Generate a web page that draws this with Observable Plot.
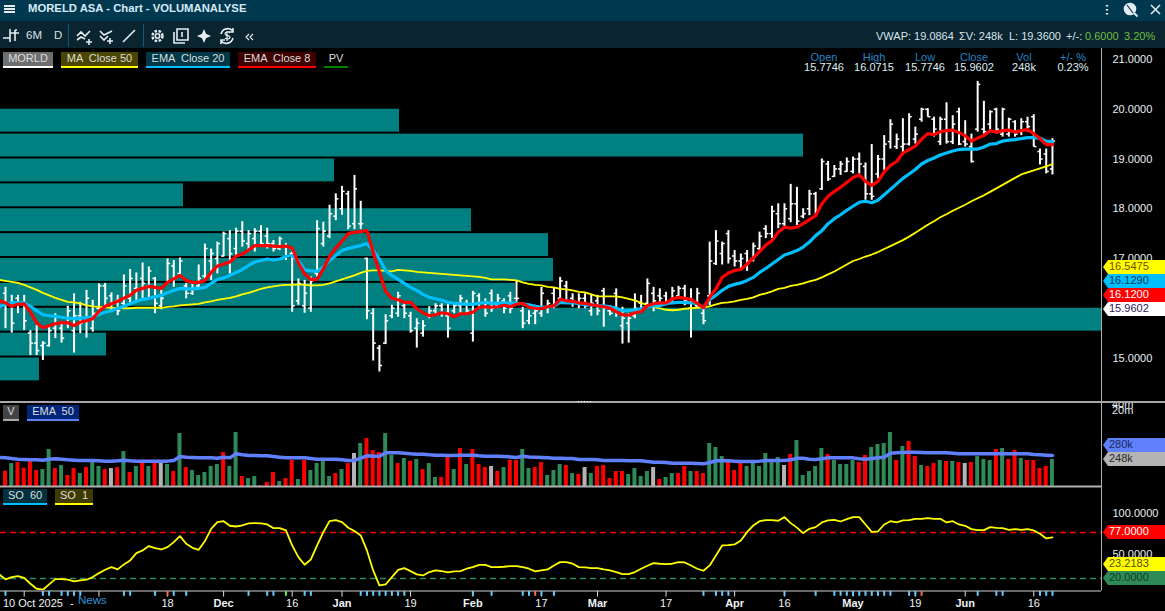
<!DOCTYPE html>
<html>
<head>
<meta charset="utf-8">
<script src="https://cdn.jsdelivr.net/npm/d3@7"></script>
<script src="https://cdn.jsdelivr.net/npm/@observablehq/plot@0.6"></script>
<style>
html,body{margin:0;padding:0;background:#000;}
#page{position:relative;width:1165px;height:611px;overflow:hidden;background:#000;font-family:"Liberation Sans",Arial,sans-serif;font-size:11px;color:#e6eef2;}
#page svg{position:absolute;left:0;background:transparent;max-width:none;}
.h{position:absolute;white-space:pre;line-height:1;}
.chip{position:absolute;box-sizing:border-box;white-space:pre;text-align:center;color:#d8d8d8;font-size:11px;}
.tag{position:absolute;left:1103px;width:62px;height:14px;line-height:13px;padding-left:6px;box-sizing:border-box;font-size:11px;clip-path:polygon(0 50%,5px 0,100% 0,100% 100%,5px 100%);}
</style>
</head>
<body>
<div id="page"></div>
<script>
// ---------- price series (OHLC per trading day, oldest first) ----------
const high = [16.42,16.26,16.26,16.26,15.55,15.65,15.33,15.62,15.89,15.72,16.04,16.29,16.12,16.36,16.16,16.49,16.50,16.31,16.26,16.67,
16.78,16.71,16.91,16.83,16.62,16.36,16.99,16.96,17.01,16.50,16.50,16.87,17.29,17.19,17.33,17.53,17.56,17.61,17.74,17.56,
17.60,17.66,17.61,17.36,17.43,17.30,17.13,16.59,16.56,16.63,17.76,17.73,18.07,18.30,18.45,18.35,18.67,18.15,17.01,15.99,
15.25,15.87,16.06,16.32,16.12,15.92,15.79,15.75,16.03,16.09,16.09,16.09,16.09,16.26,16.16,16.34,16.29,16.19,16.37,16.28,
16.19,16.32,16.55,16.02,15.95,16.06,16.42,16.16,16.40,16.62,16.54,16.29,16.29,16.29,16.27,16.26,16.40,16.05,16.39,16.02,
15.89,16.29,16.26,16.59,16.42,16.39,16.32,16.42,16.44,16.46,16.39,16.40,16.05,17.33,17.56,17.33,17.56,17.16,17.09,17.16,
17.31,17.53,17.66,18.05,18.10,18.10,18.49,18.43,18.00,18.37,18.33,19.00,18.95,18.87,18.95,19.02,19.04,19.12,18.92,19.29,
19.07,19.47,19.79,19.50,19.81,19.91,19.64,20.02,20.01,19.84,19.84,20.13,19.87,20.02,19.77,19.50,20.56,20.16,19.97,20.02,
20.02,19.82,19.77,19.81,19.84,19.89,19.20,19.20,19.41];
const low = [15.59,15.50,15.89,15.55,15.05,15.05,14.95,15.22,15.39,15.30,15.59,15.10,15.49,15.40,15.52,15.92,16.02,15.92,15.85,16.02,
16.09,16.11,16.16,16.19,15.89,15.97,16.49,16.42,16.62,16.19,16.26,16.36,16.59,16.56,16.69,17.03,16.69,17.06,17.23,17.13,
17.13,17.23,17.19,17.13,17.16,16.96,15.92,16.06,15.90,15.92,16.63,17.23,17.40,17.76,17.87,17.58,17.58,17.58,15.77,14.94,
14.72,15.27,15.79,15.82,15.79,15.50,15.20,15.42,15.79,15.89,15.82,15.40,15.89,15.89,15.89,15.32,15.99,15.82,15.92,15.99,
15.89,15.89,16.12,15.59,15.67,15.67,15.82,15.89,15.99,16.12,16.09,16.02,15.99,15.99,15.84,15.85,15.62,15.85,15.82,15.28,
15.30,15.79,15.93,16.05,15.93,16.07,16.05,16.09,16.20,16.05,15.40,16.02,15.67,16.05,16.86,16.87,16.89,16.83,16.79,16.74,
16.93,17.16,17.40,17.40,17.60,17.62,17.72,17.66,17.80,17.86,17.86,18.37,18.55,18.63,18.67,18.73,18.70,18.70,18.17,18.17,
18.60,18.77,19.20,19.19,19.07,19.26,19.30,19.74,19.84,19.44,19.27,19.30,19.29,19.27,19.24,18.92,19.54,19.50,19.57,19.50,
19.44,19.44,19.44,19.47,19.54,19.24,18.88,18.70,18.68];
const open = [16.30,16.05,16.20,16.10,15.50,15.30,15.25,15.25,15.60,15.60,15.70,15.55,15.85,15.75,15.60,16.00,16.45,16.25,16.15,16.10,
16.20,16.40,16.60,16.45,16.60,16.05,16.50,16.85,16.70,16.45,16.30,16.45,16.65,16.95,17.00,17.05,17.40,17.20,17.55,17.30,
17.40,17.55,17.45,17.30,17.20,17.25,17.10,16.15,16.05,16.00,16.70,17.30,17.45,17.85,18.00,18.30,17.70,17.70,17.00,15.90,
15.20,15.30,15.85,15.90,16.05,15.85,15.60,15.50,15.85,15.95,16.05,15.85,15.95,16.05,16.10,15.50,16.25,16.10,16.30,16.05,
16.15,16.25,16.20,15.95,15.75,15.90,15.90,16.00,16.30,16.20,16.45,16.20,16.10,16.20,15.95,16.15,16.35,15.95,16.30,15.65,
15.70,15.85,16.10,16.10,16.30,16.25,16.25,16.15,16.25,16.40,16.00,16.05,15.90,16.25,16.90,17.10,17.50,17.05,16.95,17.10,
17.00,17.20,17.60,17.50,17.90,17.70,17.80,18.10,17.85,18.00,18.30,18.40,18.90,18.65,18.80,18.75,18.75,19.00,18.85,18.30,
18.70,19.00,19.35,19.25,19.25,19.30,19.40,19.80,20.00,19.80,19.35,19.80,19.35,19.95,19.35,19.25,19.60,19.60,19.70,20.00,
19.50,19.50,19.75,19.55,19.75,19.85,19.15,19.10,18.80];
const close = [16.10,15.70,16.10,15.75,15.30,15.15,15.30,15.55,15.70,15.40,15.95,15.85,15.70,16.20,15.90,16.45,16.20,16.10,15.95,16.45,
16.60,16.15,16.50,16.75,16.10,16.20,16.90,16.60,16.95,16.30,16.40,16.60,17.20,17.10,17.30,17.50,17.10,17.55,17.35,17.50,
17.55,17.30,17.30,17.20,17.40,17.05,16.05,16.50,16.30,16.55,17.60,17.55,17.90,18.20,18.35,17.65,18.40,17.70,15.95,15.30,
14.85,15.75,16.00,16.25,15.90,15.55,15.70,15.65,15.95,16.05,15.90,15.60,16.05,16.20,15.95,16.30,16.10,15.90,16.00,16.20,
16.00,16.00,16.20,15.70,15.85,15.95,16.30,16.10,16.05,16.55,16.15,16.10,16.20,16.05,16.10,15.95,16.00,15.90,15.90,15.80,
15.80,16.00,16.00,16.50,16.15,16.20,16.10,16.35,16.40,16.15,16.10,16.30,15.75,16.95,17.35,17.30,17.00,16.95,17.00,16.95,
17.25,17.45,17.50,17.95,17.70,18.00,18.10,17.75,17.90,18.30,17.95,18.95,18.60,18.80,18.90,18.95,19.00,18.90,18.30,18.25,
19.00,19.30,19.70,19.40,19.30,19.85,19.50,20.00,19.85,19.60,19.80,19.35,19.70,19.30,19.30,18.95,20.50,19.55,19.95,19.60,
20.00,19.80,19.50,19.75,19.65,19.25,19.00,18.75,19.36];

// ---------- moving averages on price ----------
const ema8 = [16.11,16.04,16.08,16.09,15.92,15.71,15.61,15.65,15.69,15.71,15.71,15.65,15.72,15.75,15.79,15.94,16.04,16.09,16.14,16.20,
16.26,16.36,16.40,16.44,16.42,16.40,16.52,16.59,16.66,16.56,16.52,16.52,16.56,16.72,16.85,16.89,16.93,17.05,17.09,17.17,
17.26,17.26,17.26,17.25,17.24,17.25,17.21,16.91,16.69,16.58,16.58,16.79,17.04,17.21,17.35,17.50,17.53,17.54,17.56,17.13,
16.73,16.34,16.20,16.17,16.12,16.12,15.99,15.91,15.85,15.87,15.91,15.89,15.83,15.89,15.89,15.92,16.02,16.03,16.02,16.03,
16.06,16.03,16.08,16.10,16.02,16.00,15.99,16.03,16.05,16.18,16.15,16.14,16.11,16.10,16.07,16.05,16.03,16.00,15.93,15.87,
15.86,15.91,15.93,16.05,16.09,16.11,16.11,16.19,16.22,16.20,16.18,16.10,16.01,16.22,16.39,16.62,16.71,16.76,16.78,16.89,
17.01,17.14,17.27,17.36,17.53,17.63,17.61,17.63,17.70,17.78,17.86,18.10,18.25,18.35,18.43,18.53,18.63,18.68,18.55,18.47,
18.55,18.74,18.87,18.95,19.12,19.19,19.26,19.40,19.51,19.49,19.55,19.57,19.58,19.53,19.47,19.36,19.42,19.47,19.57,19.54,
19.57,19.58,19.54,19.57,19.59,19.51,19.41,19.29,19.29];
const ema20 = [16.07,16.11,16.11,16.11,16.04,15.95,15.87,15.85,15.84,15.82,15.80,15.79,15.80,15.81,15.82,15.88,15.92,15.95,16.00,16.04,
16.09,16.14,16.18,16.20,16.23,16.26,16.31,16.36,16.40,16.39,16.39,16.40,16.42,16.50,16.58,16.61,16.66,16.72,16.78,16.86,
16.93,16.96,16.99,16.97,16.99,17.04,17.06,16.95,16.77,16.75,16.74,16.83,16.96,17.06,17.16,17.20,17.23,17.26,17.30,17.16,
16.99,16.76,16.66,16.58,16.50,16.42,16.36,16.28,16.22,16.19,16.16,16.12,16.10,16.09,16.08,16.08,16.10,16.12,16.10,16.10,
16.11,16.10,16.10,16.09,16.07,16.04,16.02,16.03,16.05,16.12,16.11,16.11,16.09,16.07,16.07,16.05,16.05,16.03,16.00,15.95,
15.95,15.97,15.99,16.03,16.05,16.05,16.09,16.11,16.12,16.12,16.11,16.09,16.02,16.18,16.26,16.36,16.44,16.48,16.51,16.56,
16.62,16.72,16.80,16.89,16.98,17.07,17.11,17.16,17.23,17.33,17.46,17.56,17.70,17.80,17.88,17.97,18.05,18.13,18.15,18.12,
18.17,18.28,18.39,18.50,18.61,18.70,18.79,18.90,18.97,19.02,19.08,19.12,19.16,19.19,19.20,19.20,19.20,19.24,19.30,19.31,
19.36,19.38,19.39,19.41,19.43,19.43,19.42,19.36,19.35];
const ma50 = [16.55,16.53,16.51,16.47,16.42,16.37,16.31,16.26,16.21,16.17,16.13,16.12,16.10,16.06,16.04,16.03,16.02,16.01,16.01,16.00,
16.00,16.01,16.01,16.01,16.01,16.01,16.03,16.04,16.06,16.07,16.08,16.09,16.12,16.14,16.17,16.19,16.21,16.24,16.28,16.31,
16.35,16.39,16.42,16.44,16.46,16.47,16.47,16.48,16.47,16.46,16.46,16.47,16.50,16.54,16.58,16.62,16.66,16.71,16.75,16.76,
16.76,16.75,16.74,16.77,16.76,16.75,16.73,16.72,16.71,16.70,16.69,16.68,16.67,16.66,16.65,16.64,16.63,16.61,16.58,16.58,
16.58,16.57,16.56,16.52,16.49,16.47,16.46,16.43,16.42,16.39,16.38,16.36,16.33,16.32,16.28,16.24,16.24,16.24,16.24,16.22,
16.19,16.16,16.11,16.06,16.03,16.00,15.97,15.96,15.97,15.99,16.00,16.01,16.02,16.04,16.08,16.11,16.12,16.14,16.17,16.19,
16.22,16.27,16.30,16.34,16.39,16.41,16.45,16.47,16.50,16.54,16.57,16.62,16.68,16.74,16.81,16.88,16.95,16.99,17.04,17.08,
17.13,17.19,17.25,17.31,17.37,17.44,17.52,17.60,17.68,17.75,17.83,17.89,17.96,18.02,18.08,18.15,18.21,18.27,18.34,18.41,
18.48,18.55,18.62,18.69,18.73,18.77,18.81,18.85,18.90];

// ---------- volume (thousands) and its EMA 50 ----------
const volume = [141,211,220,168,230,147,156,340,165,193,101,165,119,174,223,184,156,165,174,321,
129,184,211,184,214,214,202,138,487,174,147,101,129,184,202,312,184,496,92,73,
92,6,37,129,46,73,239,64,239,147,211,239,92,119,156,211,303,395,441,330,
312,487,285,211,257,230,248,156,211,83,83,266,156,349,202,340,202,174,184,138,
174,239,239,340,165,174,220,101,147,202,193,119,110,174,119,184,193,73,138,138,
110,165,92,138,174,64,83,119,119,184,138,138,119,395,358,275,220,147,211,184,
220,184,303,248,266,193,294,422,101,138,184,349,294,239,202,202,239,220,285,358,
386,395,496,239,367,413,275,193,184,211,239,230,230,220,211,220,275,248,239,340,
349,248,330,257,239,239,165,184,248];
const volumeKind = "RGRRRRGGRGRRGRGGRNRGRGRGRNGRGRGGGGGRGGRGGRRRGRRGRGGGGRGRNGRRRGGRGRGRGGRRGRGRRRNRGRRGGRRGGGRGRNGRRRRRGGGGNRGGRRGRRGGGRRRGGGGGGNRG".split("");
const volumeKindRest = "GGGGRGGGGRRGGGGRGRRGRRGRGRNRGGGRGRRGRRRRG".split("");
const volumeEma = [263,257,251,248,245,245,242,251,254,251,245,242,239,239,239,236,233,233,236,242,
236,233,233,233,233,233,233,239,275,269,266,263,263,263,260,269,263,300,291,285,
285,282,282,275,269,263,263,263,263,257,251,251,251,251,245,239,239,260,282,278,
278,309,309,309,306,300,297,297,291,288,288,285,285,288,288,288,282,278,278,278,
275,272,266,278,272,269,266,263,260,260,257,257,248,248,248,245,239,239,239,239,
236,236,236,229,223,223,220,214,214,214,214,211,208,220,236,239,236,233,229,229,
229,233,239,239,239,239,245,260,260,251,248,254,263,263,263,263,263,254,251,257,
263,269,306,309,312,315,315,312,309,309,309,309,306,300,300,300,300,300,300,300,
300,300,300,300,300,294,291,288,285];

// ---------- stochastic oscillator ----------
const so = [18.8,21.7,22.9,20.8,13.4,7.2,6.0,12.6,19.2,19.2,18.4,16.3,17.5,18.4,21.7,26.6,30.7,34.0,31.2,37.4,
42.3,51.4,54.7,60.1,57.6,55.9,58.8,65.0,72.5,63.0,58.0,55.5,66.3,81.5,89.8,91.0,85.3,84.4,85.7,88.2,
88.6,88.2,86.9,82.4,82.4,79.5,60.9,46.4,36.9,43.5,60.9,77.4,91.0,92.3,89.8,82.8,78.7,73.3,54.7,29.9,
11.3,12.6,21.7,30.7,32.8,29.1,25.0,23.7,27.9,29.9,29.1,27.4,28.7,29.1,32.0,34.0,36.9,36.9,34.0,34.0,
34.5,35.3,35.3,34.0,32.0,28.7,29.9,31.2,36.1,40.2,40.2,38.2,34.0,33.6,32.8,32.8,31.2,29.9,27.9,25.4,
25.4,27.9,32.0,35.7,39.0,38.2,37.8,38.2,40.2,39.8,36.1,32.0,29.5,36.1,48.5,60.9,61.3,62.1,67.1,77.4,
85.7,91.0,92.3,92.3,91.5,96.0,88.6,83.0,76.2,81.5,83.6,89.4,91.9,92.7,90.6,93.5,96.0,96.0,86.9,77.8,
78.2,86.9,91.0,89.4,91.9,92.3,93.9,93.9,94.8,93.9,93.9,89.4,91.0,86.9,85.3,81.1,79.9,79.9,83.6,82.8,
82.4,80.3,81.1,80.3,81.1,79.5,75.3,69.6,70.8];

// readings of each line on the day before the first whole bar, at the left edge of the chart
const leadIndex = -1;
const leadEma8 = 16.15;
const leadEma20 = 16.03;
const leadMa50 = 16.57;
const leadVolumeEma = 266;
const leadSo = 25.0;

// ---------- price-volume profile (millions, by price band) ----------
const profileTop = [20,19.5,19,18.5,18,17.5,17,16.5,16,15.5,15];
const profileBottom = [19.54,19.04,18.54,18.04,17.54,17.04,16.54,16.04,15.54,15.04,14.54];
const profileVolume = [3.99,8.03,3.34,1.83,4.71,5.48,5.53,5.15,11.01,1.06,0.39];

// ---------- time axis ----------
const monthLabels = [["Dec",35],["Jan",54],["Feb",75],["Mar",95],["Apr",117],["May",136],["Jun",154]];
const dayLabels = [["18",26],["16",46],["19",65],["17",86],["17",106],["16",125],["19",146],["16",165]];
const plainTicks = [3,15,26,35,46,54,65,75,86,95,106,117,125,136,146,154,165];
const newsTicks = [0,6,7,9,10,11,12,19,20,24,27,29,39,42,43,48,49,57,58,59,60,61,62,63,64,75,78,83,84,86,88,112,114,115,116,125,130,133,134,135,136,137,138,139,140,141,142,145,146,156,159,160,166,167,168];
const alertTicks = [26,85,147];
const positiveTicks = [45];

// ---------- text ----------
const priceTicks = [15,17,18,19,20,21];
const soTicks = [100,50];
const ohlcHeader = [["Open","15.7746"],["High","16.0715"],["Low","15.7746"],["Close","15.9602"],["Vol","248k"],["+/- %","0.23%"]];

const n = high.length;
const kinds = volumeKind.concat(volumeKindRest).slice(0,n);
const bars = d3.range(n).map(i => ({i, h:high[i], l:low[i], o:open[i], c:close[i], v:volume[i], k:kinds[i], e8:ema8[i], e20:ema20[i], m50:ma50[i], ve:volumeEma[i], so:so[i]}));
const lineRows = [{i:leadIndex, e8:leadEma8, e20:leadEma20, m50:leadMa50, ve:leadVolumeEma, so:leadSo}, ...bars];

const page = document.getElementById("page");
const xDomain = [-0.802, 175.87];
const axisEnd = xDomain[1];
const kindColor = {G:"#2e8b57", R:"#ff0000", N:"#b4b4b4"};
const fmt4 = d => d.toFixed(4);
const common = {width:1165, marginLeft:0, marginRight:64, marginTop:0};
function place(svg, top){ svg.style.top = top+"px"; svg.style.position="absolute"; svg.style.background="transparent"; page.appendChild(svg); }

// top/left chrome
function box(l,t,w,h,bg){const d=document.createElement("div");d.style.cssText=`position:absolute;left:${l}px;top:${t}px;width:${w}px;height:${h}px;background:${bg}`;page.appendChild(d);return d;}
function txt(s,l,t,color,extra){const d=document.createElement("div");d.className="h";d.textContent=s;d.style.cssText=`left:${l}px;top:${t}px;color:${color};${extra||""}`;page.appendChild(d);return d;}
box(0,0,1165,21,"#00384f");
box(0,21,1165,27,"#0a2430");

// profile layer
place(Plot.plot({...common, height:354, marginBottom:0,
  x:{domain:[0,11.01],axis:null}, y:{domain:[14.106,21.221],axis:null},
  marks:[Plot.rect(d3.range(profileTop.length),{x1:0,x2:i=>profileVolume[i],y1:i=>profileBottom[i],y2:i=>profileTop[i],fill:"#008080"})]
}),48);

// price layer
place(Plot.plot({...common, height:354, marginBottom:0,
  x:{domain:xDomain,axis:null}, y:{domain:[14.106,21.221],axis:null},
  marks:[
    Plot.ruleX(bars,{x:"i",y1:"l",y2:"h",stroke:"#fff",strokeWidth:2}),
    Plot.link(bars,{x1:d=>d.i-0.42,x2:"i",y1:"o",y2:"o",stroke:"#fff",strokeWidth:1.5}),
    Plot.link(bars,{x1:"i",x2:d=>d.i+0.42,y1:"c",y2:"c",stroke:"#fff",strokeWidth:1.5}),
    Plot.line(lineRows,{x:"i",y:"m50",stroke:"#ffff00",strokeWidth:1.8,clip:"frame"}),
    Plot.line(lineRows,{x:"i",y:"e20",stroke:"#00bfff",strokeWidth:3.2,clip:"frame"}),
    Plot.line(lineRows,{x:"i",y:"e8",stroke:"#ff0000",strokeWidth:3.2,clip:"frame"}),
    Plot.ruleX([axisEnd],{stroke:"#b0b0b0",strokeWidth:1}),
    Plot.axisY(priceTicks,{anchor:"right",tickSize:0,tickPadding:11,tickFormat:fmt4,fill:"#e8eef2",fontSize:11,fontFamily:"Liberation Sans",label:null})
  ]
}),48);

// volume layer
place(Plot.plot({...common, height:86, marginBottom:2,
  x:{domain:xDomain,axis:null}, y:{domain:[0,771.5],axis:null},
  marks:[
    Plot.rectY(bars,{x1:d=>d.i-0.32,x2:d=>d.i+0.32,y1:0,y2:"v",fill:d=>kindColor[d.k]}),
    Plot.ruleY([0],{stroke:"#b0b0b0",strokeWidth:2}),
    Plot.line(lineRows,{x:"i",y:"ve",stroke:"#6080ff",strokeWidth:3.5,clip:"frame"}),
    Plot.ruleX([axisEnd],{stroke:"#b0b0b0",strokeWidth:1})
  ]
}),402);

// stochastic layer
place(Plot.plot({...common, height:106, marginBottom:1.5,
  x:{domain:xDomain,axis:null}, y:{domain:[4.4,134],axis:null},
  marks:[
    Plot.ruleY([77],{stroke:"#ff0000",strokeWidth:1.5,strokeDasharray:"6,4"}),
    Plot.ruleY([20],{stroke:"#2e8b57",strokeWidth:1.5,strokeDasharray:"6,4"}),
    Plot.line(lineRows,{x:"i",y:"so",stroke:"#ffff00",strokeWidth:1.8,clip:"frame"}),
    Plot.ruleX([axisEnd],{stroke:"#b0b0b0",strokeWidth:1}),
    Plot.ruleY([4.4],{stroke:"#d0d0d0",strokeWidth:1}),
    Plot.axisY(soTicks,{anchor:"right",tickSize:0,tickPadding:11,tickFormat:fmt4,fill:"#e8eef2",fontSize:11,fontFamily:"Liberation Sans",label:null})
  ]
}),486);

// time axis layer
place(Plot.plot({...common, height:20, marginBottom:0,
  x:{domain:xDomain,axis:null}, y:{domain:[0,1],axis:null},
  marks:[
    Plot.ruleX(plainTicks,{x:d=>d,y1:0.72,y2:1,stroke:"#e0e0e0",strokeWidth:1}),
    Plot.ruleX(newsTicks,{x:d=>d,y1:0.76,y2:1,stroke:"#66ccff",strokeWidth:2}),
    Plot.ruleX(alertTicks,{x:d=>d,y1:0.76,y2:1,stroke:"#ff6a5a",strokeWidth:2}),
    Plot.ruleX(positiveTicks,{x:d=>d,y1:0.76,y2:1,stroke:"#66ee44",strokeWidth:2}),
    Plot.text(dayLabels,{x:d=>d[1],y:0.38,text:d=>d[0],fill:"#eef3f6",fontSize:11,fontFamily:"Liberation Sans"}),
    Plot.text(monthLabels,{x:d=>d[1],y:0.38,text:d=>d[0],fill:"#eef3f6",fontSize:11,fontWeight:"bold",fontFamily:"Liberation Sans"})
  ]
}),591);

// panel separator
box(0,401,1165,2,"#a8a8a8");

// header text and icons
txt("MORELD ASA - Chart - VOLUMANALYSE",28,3,"#d6e9f5","font-size:11.3px;font-weight:bold;");
txt("6M",26,30,"#d6e2ea","font-size:11.5px;");
txt("D",54,30,"#d6e2ea","font-size:11.5px;");
box(68,24,1,23,"#0c5a80");
box(143,24,1,23,"#0c5a80");
page.insertAdjacentHTML("beforeend",`<svg style="top:0;left:0" width="1165" height="48" fill="none" stroke="#e4edf2" stroke-width="1.6">
<path d="M4 6h11M4 9h11M4 12h11" stroke-width="1.8"/>
<path d="M10 29v13M3 38h7M15 30v11M10 33h9M15 30h2" />
<path d="M77 36l4-4 4 4 5-5M77 40l4-3 4 2 M86 42h6M89 39v6" />
<path d="M100 31l4 4 4-2 4-2M100 36l4 4 4-4M107 41h6M110 38v6" />
<path d="M123 42l12-12"/>
<circle cx="157.500" cy="36" r="2.200"/><circle cx="157.500" cy="36" r="5" stroke-width="2.500" stroke-dasharray="2.500,1.500"/>
<path d="M177 29h11v11h-11zM174 32v11h11" /><path d="M182 32v5" />
<path d="M204 31l1.500 3.500 3.500 1.500-3.500 1.500-1.500 3.500-1.500-3.500-3.500-1.500 3.500-1.500z" fill="#e4edf2"/>
<path d="M221 34a7 7 0 0 1 12-3M233 38a7 7 0 0 1-12 3M233 28v4h-4M221 44v-4h4"/>
<path d="M227 31v10M230 33c-1-1.500-5-1.500-5 .8 0 2.400 5 1.200 5 3.400 0 2.200-4 2.200-5 .8" stroke-width="1.200"/>
<path d="M249 34l-3 3 3 3M253 34l-3 3 3 3" stroke-width="1.100"/>
<path d="M1107 5v1.500M1107 9v1.500M1107 13v1.500" stroke-width="2.400"/>
<circle cx="1130" cy="9" r="5.500" fill="#e4edf2"/><path d="M1134 13l4 4M1127 5l6 8" stroke="#00384f" stroke-width="1.200"/><path d="M1134 13l3.500 3.500" stroke-width="2"/>
<path d="M1151 5l9 9M1160 5l-9 9" stroke-width="1.500"/>
</svg>`);

// status line top-right
txt("VWAP: 19.0864",876,31,"#d6e2ea");
txt("ΣV: 248k",959,31,"#d6e2ea");
txt("L: 19.3600",1009,31,"#d6e2ea");
txt("+/-:",1066,31,"#d6e2ea");
txt("0.6000",1085,31,"#6fbf45");
txt("3.20%",1124,31,"#6fbf45");

// OHLC read-out
const centers=[824,874,925,974,1024,1073];
ohlcHeader.forEach((row,j)=>{
  txt(row[0],centers[j]-30,52,"#2186c4","width:60px;text-align:center;");
  txt(row[1],centers[j]-30,62,"#dfeef5","width:60px;text-align:center;");
});

// legend chips
function chip(s,l,t,w,bg,line,h,color){const d=document.createElement("div");d.className="chip";d.textContent=s;
 d.style.cssText=`left:${l}px;top:${t}px;width:${w}px;height:${h||16}px;line-height:${(h||16)-3}px;background:${bg};border-bottom:2px solid ${line};color:${color||"#dcdcdc"}`;page.appendChild(d);}
chip("MORLD",3,52,50,"#6e6e6e","#fff");
chip("MA  Close 50",61,52,77,"#4a4500","#ffff00");
chip("EMA  Close 20",146,52,84,"#003848","#00bfff");
chip("EMA  Close 8",238,52,78,"#3f0000","#ff0000");
chip("PV",324,52,24,"transparent","#008000");
chip("V",3,405,16,"#444","#aaa");
chip("EMA  50",27,405,52,"#00267a","#6080ff");
chip("SO  60",3,489,44,"#03303f","#00bfff");
chip("SO  1",55,489,38,"#3f3a00","#ffff00");

// value tags on the right edge
function tag(s,y,bg,color){const d=document.createElement("div");d.className="tag";d.textContent=s;d.style.top=(y-7)+"px";d.style.background=bg;d.style.color=color;page.appendChild(d);}
tag("16.5475",267,"#ffff00","#6b4e00");
tag("16.1290",281,"#00bfff","#06384f");
tag("16.1200",295,"#ff0000","#ffffff");
tag("15.9602",309,"#ffffff","#2a1a5a");
tag("280k",445,"#6080ff","#1a2a55");
tag("248k",459,"#b4b4b4","#2a2a2a");
tag("77.0000",532,"#ff0000","#ffffff");
tag("23.2183",564,"#ffff00","#5a4a00");
tag("20.0000",578,"#2e8b57","#123a24");

// volume axis labels, stacked at the top of the panel
txt("40m",1112,399,"#e8eef2");
txt("20m",1112,405,"#e8eef2");
box(1102,396,63,5,"#000");
box(0,401,1165,2,"#a8a8a8");
box(578,401,14,1,"repeating-linear-gradient(90deg,#fff 0 1.5px,transparent 1.5px 3px)");

// x-axis caption
txt("10 Oct 2025",3,598,"#eef3f6");
txt("-",70,598,"#eef3f6");
txt("News",78,595,"#2f95d8","font-size:11.5px;");
</script>
</body>
</html>
